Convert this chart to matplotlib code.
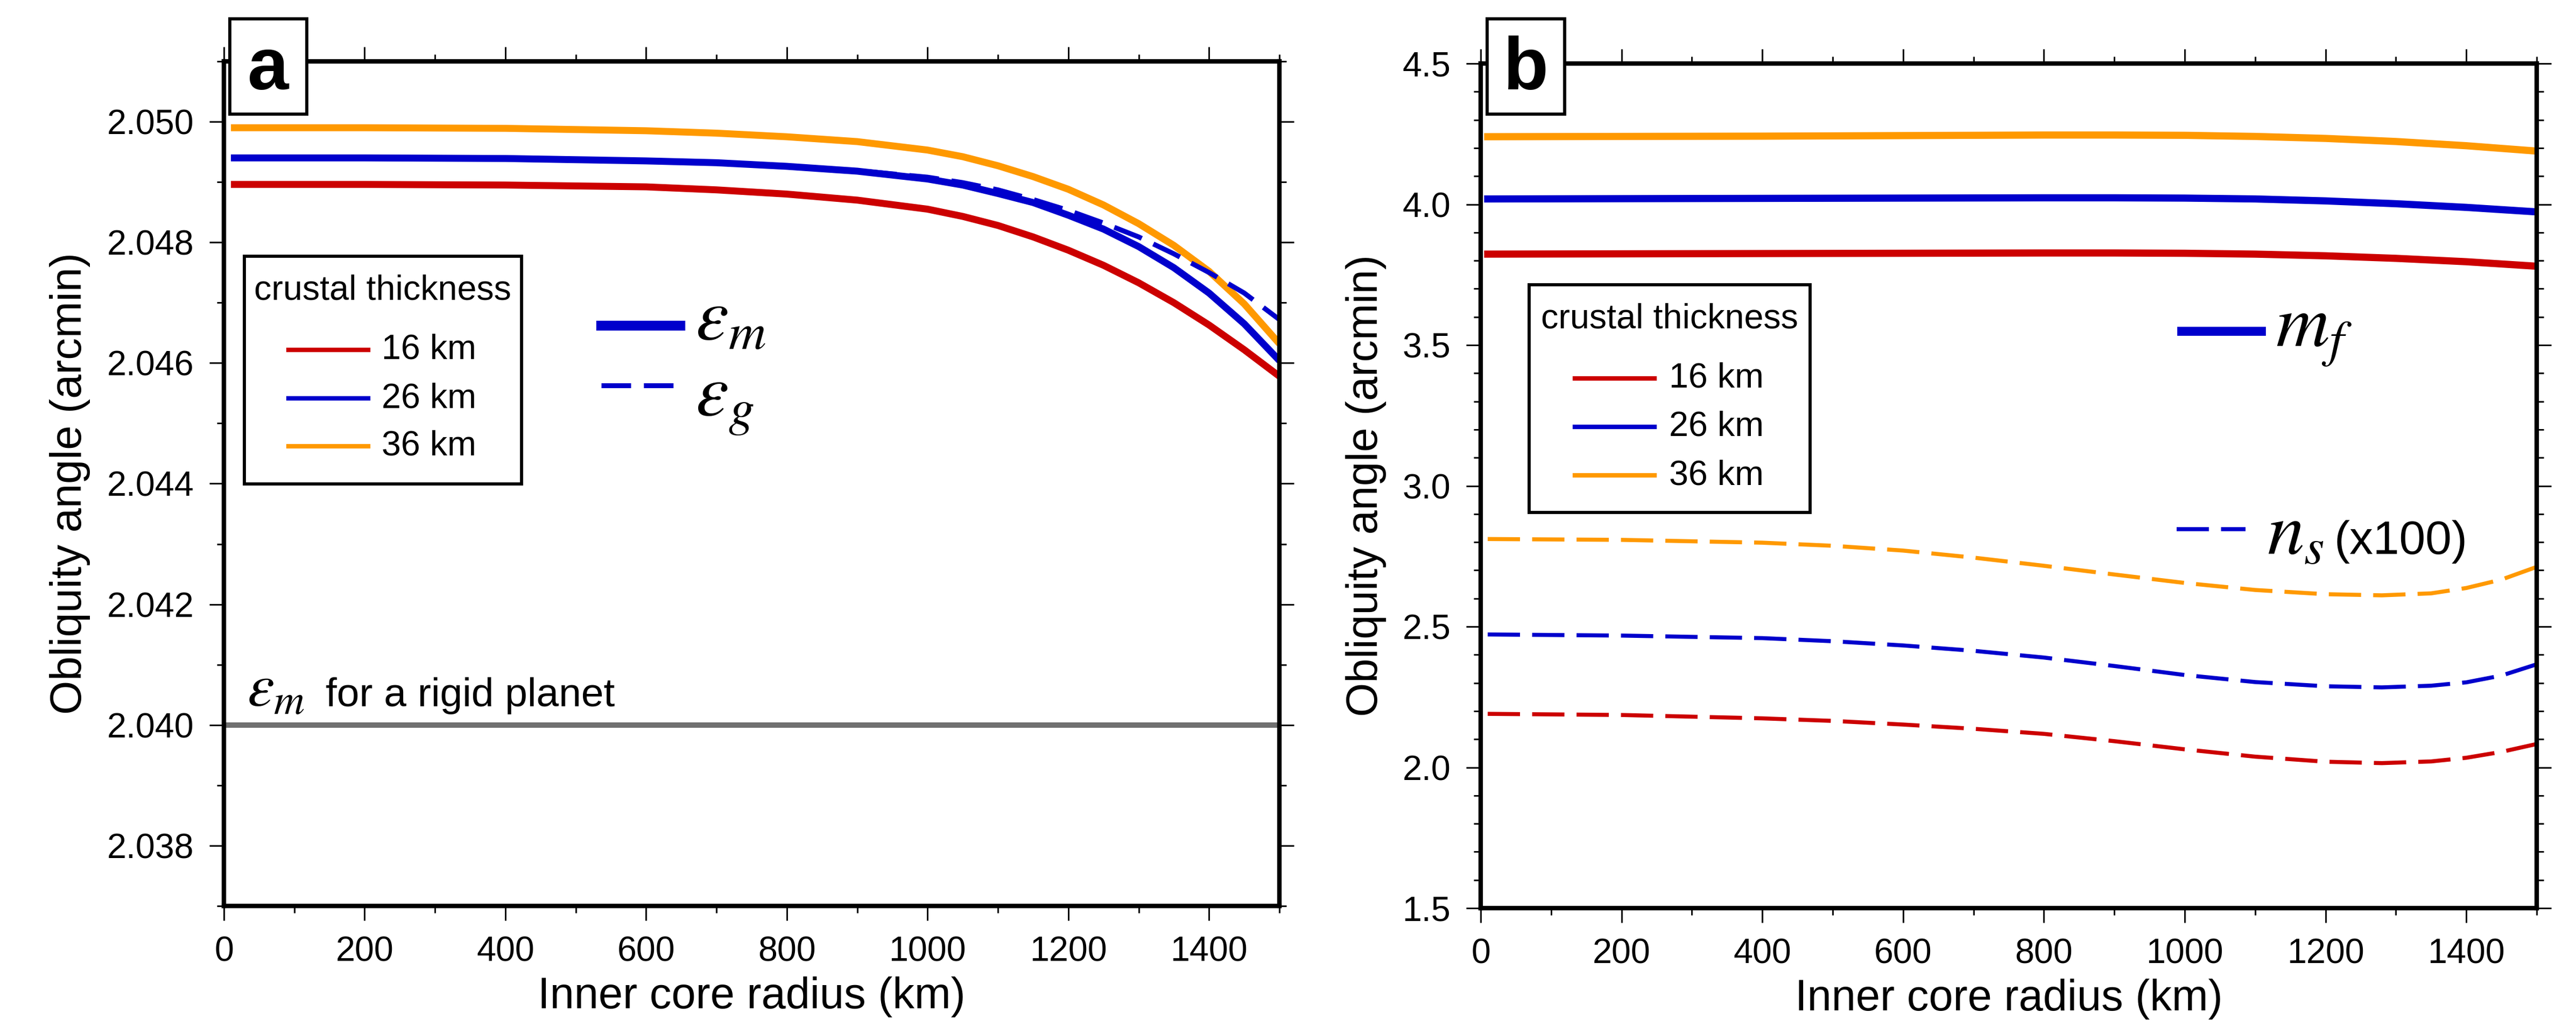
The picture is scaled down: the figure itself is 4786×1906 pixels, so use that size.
import matplotlib
matplotlib.use("Agg")
import matplotlib.pyplot as plt
from matplotlib.patches import Rectangle
from matplotlib.lines import Line2D
from matplotlib.ticker import MultipleLocator, FormatStrFormatter

plt.rcParams["font.family"] = ["Liberation Sans", "DejaVu Sans"]
plt.rcParams["mathtext.fontset"] = "stix"

# ---------------- data ----------------
crust_labels = ["16 km", "26 km", "36 km"]

# (a) obliquity of the mantle / gravity field vs inner core radius (arcmin)
radius_a = [10, 200, 400, 600, 700, 800, 900, 1000, 1050, 1100, 1150,
            1200, 1250, 1300, 1350, 1400, 1450, 1500]
eps_m_16 = [2.04896, 2.04896, 2.04895, 2.04892, 2.04887, 2.04880, 2.04870,
            2.04855, 2.04843, 2.04828, 2.04809, 2.04787, 2.04762, 2.04733,
            2.04700, 2.04663, 2.04622, 2.04578]
eps_m_26 = [2.04940, 2.04940, 2.04939, 2.04935, 2.04932, 2.04926, 2.04918,
            2.04905, 2.04895, 2.04881, 2.04866, 2.04845, 2.04822, 2.04793,
            2.04758, 2.04716, 2.04665, 2.04604]
eps_m_36 = [2.04990, 2.04990, 2.04989, 2.04985, 2.04981, 2.04975, 2.04967,
            2.04953, 2.04942, 2.04927, 2.04909, 2.04888, 2.04862, 2.04831,
            2.04795, 2.04752, 2.04698, 2.04632]
eps_g_26 = [2.04940, 2.04940, 2.04939, 2.04935, 2.04932, 2.04926, 2.04919,
            2.04908, 2.04899, 2.04887, 2.04871, 2.04853, 2.04832, 2.04809,
            2.04781, 2.04750, 2.04716, 2.04672]
eps_m_rigid = 2.040

# (b) tilt of the fluid core (m_f) and of the inner core (n_s, x100)
radius_b = [10, 200, 400, 600, 800, 900, 1000, 1100, 1200, 1300, 1400, 1500]
mf_16 = [3.823, 3.824, 3.825, 3.826, 3.827, 3.827, 3.826, 3.823, 3.817,
         3.808, 3.796, 3.780]
mf_26 = [4.019, 4.020, 4.021, 4.022, 4.023, 4.023, 4.022, 4.019, 4.012,
         4.002, 3.989, 3.973]
mf_36 = [4.240, 4.241, 4.242, 4.244, 4.246, 4.246, 4.245, 4.241, 4.234,
         4.223, 4.208, 4.189]

radius_ns = [10, 200, 400, 500, 600, 700, 800, 900, 1000, 1100, 1200, 1280,
             1350, 1400, 1450, 1500]
ns_16 = [2.190, 2.186, 2.174, 2.165, 2.152, 2.137, 2.119, 2.093, 2.064,
         2.038, 2.020, 2.015, 2.021, 2.034, 2.055, 2.083]
ns_26 = [2.472, 2.468, 2.459, 2.448, 2.433, 2.414, 2.390, 2.360, 2.328,
         2.303, 2.288, 2.284, 2.290, 2.302, 2.326, 2.366]
ns_36 = [2.811, 2.808, 2.798, 2.787, 2.770, 2.745, 2.716, 2.685, 2.655,
         2.630, 2.615, 2.611, 2.618, 2.637, 2.667, 2.712]

# ---------------- style ----------------
RED, BLUE, ORANGE, GRAY = "#cc0000", "#0000cc", "#ff9900", "#707070"
colors = [RED, BLUE, ORANGE]
TICK_FS = 15.5
LABEL_FS = 19.5
SYMBOL_FS = 33

W, H = 4786, 1906
fig = plt.figure(figsize=(W / 300, H / 300), dpi=300)


def px_axes(left, top, right, bottom):
    return [left / W, (H - bottom) / H, (right - left) / W, (bottom - top) / H]


ax_a = fig.add_axes(px_axes(416, 114, 2377, 1683))
ax_b = fig.add_axes(px_axes(2751, 118, 4713, 1687))


def style_axes(ax, ymaj, ymin, yfmt, ylim, ylab_x):
    ax.set_xlim(0, 1500)
    ax.set_ylim(*ylim)
    ax.xaxis.set_major_locator(MultipleLocator(200))
    ax.xaxis.set_minor_locator(MultipleLocator(100))
    ax.yaxis.set_major_locator(MultipleLocator(ymaj))
    ax.yaxis.set_minor_locator(MultipleLocator(ymin))
    ax.yaxis.set_major_formatter(FormatStrFormatter(yfmt))
    ax.tick_params(which="both", direction="out", top=True, right=True,
                   width=0.7, labelsize=TICK_FS, pad=7)
    ax.tick_params(which="major", length=6.4)
    ax.tick_params(which="minor", length=3.2)
    for s in ax.spines.values():
        s.set_linewidth(2.0)
        s.set_zorder(5)
    ax.set_xlabel("Inner core radius (km)", fontsize=LABEL_FS)
    ax.set_ylabel("Obliquity angle (arcmin)", fontsize=LABEL_FS)
    ax.xaxis.set_label_coords(0.5, -0.108)
    ax.xaxis.label.set_va("center")
    ax.yaxis.set_label_coords(ylab_x, 0.5)
    ax.yaxis.label.set_va("center")


style_axes(ax_a, 0.002, 0.001, "%.3f", (2.037, 2.051), -0.1458)
style_axes(ax_b, 0.5, 0.1, "%.1f", (1.5, 4.5), -0.1086)

# ---------------- panel a ----------------
ax_a.axhline(eps_m_rigid, color=GRAY, lw=2.4, zorder=2)
for vals, c in zip([eps_m_16, eps_m_26, eps_m_36], colors):
    ax_a.plot(radius_a, vals, color=c, lw=3.1, solid_capstyle="butt", zorder=3)
ax_a.plot(radius_a, eps_g_26, color=BLUE, lw=2.2, dashes=(6, 2.6), zorder=3)

ax_a.text(0.0219, 0.2365, r"$\varepsilon_m$", transform=ax_a.transAxes,
          fontsize=27, va="baseline", ha="left")
ax_a.text(0.0964, 0.2365, "for a rigid planet", transform=ax_a.transAxes,
          fontsize=18, va="baseline", ha="left")


def crust_legend(ax, box, title_xy, line_x, text_x, ys):
    x0, y0, x1, y1 = box
    ax.add_patch(Rectangle((x0, y0), x1 - x0, y1 - y0, transform=ax.transAxes,
                           facecolor="white", edgecolor="black", lw=1.4,
                           zorder=6))
    ax.text(title_xy[0], title_xy[1], "crustal thickness",
            transform=ax.transAxes, fontsize=TICK_FS, ha="center",
            va="center", zorder=7)
    for y, c, lab in zip(ys, colors, crust_labels):
        ax.add_line(Line2D(line_x, [y, y], transform=ax.transAxes, color=c,
                           lw=2.0, zorder=7))
        ax.text(text_x, y, lab, transform=ax.transAxes, fontsize=TICK_FS,
                ha="left", va="center", zorder=7)


crust_legend(ax_a, (0.0194, 0.4997, 0.2820, 0.7693), (0.1504, 0.7291),
             [0.0612, 0.1367], 0.1494, [0.6584, 0.6010, 0.5443])

ax_a.add_line(Line2D([0.3575, 0.4324], [0.6871, 0.6871],
                     transform=ax_a.transAxes, color=BLUE, lw=4.4))
ax_a.text(0.4467, 0.6705, r"$\varepsilon_m$", transform=ax_a.transAxes,
          fontsize=SYMBOL_FS, va="baseline", ha="left")
ax_a.add_line(Line2D([0.3575, 0.4324], [0.6165, 0.6165],
                     transform=ax_a.transAxes, color=BLUE, lw=2.2,
                     dashes=(6, 2.6)))
ax_a.text(0.4467, 0.5810, r"$\varepsilon_g$", transform=ax_a.transAxes,
          fontsize=SYMBOL_FS, va="baseline", ha="left")

# ---------------- panel b ----------------
for vals, c in zip([mf_16, mf_26, mf_36], colors):
    ax_b.plot(radius_b, vals, color=c, lw=3.2, zorder=3)
for vals, c in zip([ns_16, ns_26, ns_36], colors):
    ax_b.plot(radius_ns, vals, color=c, lw=1.8, dashes=(8, 3), zorder=3)

crust_legend(ax_b, (0.0459, 0.4685, 0.3119, 0.7380), (0.1789, 0.6973),
             [0.0892, 0.1646], 0.1784, [0.6272, 0.5698, 0.5124])

ax_b.add_line(Line2D([0.6636, 0.7390], [0.6832, 0.6832],
                     transform=ax_b.transAxes, color=BLUE, lw=4.0))
ax_b.text(0.7528, 0.6648, r"$m_f$", transform=ax_b.transAxes,
          fontsize=SYMBOL_FS, va="baseline", ha="left")
ax_b.add_line(Line2D([0.6590, 0.7243], [0.4487, 0.4487],
                     transform=ax_b.transAxes, color=BLUE, lw=1.8,
                     dashes=(8, 3)))
ax_b.text(0.7446, 0.4194, r"$n_s$", transform=ax_b.transAxes,
          fontsize=SYMBOL_FS, va="baseline", ha="left")
ax_b.text(0.8080, 0.4194, "(x100)", transform=ax_b.transAxes,
          fontsize=21, va="baseline", ha="left")

# ---------------- panel letters ----------------
for (l, t, r, b), letter, cx in [((427, 35, 570, 212), "a", 498),
                                 ((2763, 35, 2907, 212), "b", 2835)]:
    fig.add_artist(Rectangle((l / W, (H - b) / H), (r - l) / W, (b - t) / H,
                             transform=fig.transFigure, facecolor="white",
                             edgecolor="black", lw=1.4, zorder=10))
    fig.text(cx / W, (H - 166) / H, letter, fontsize=33, fontweight="bold",
             ha="center", va="baseline", zorder=11)

fig.savefig("out.png", dpi=300)
